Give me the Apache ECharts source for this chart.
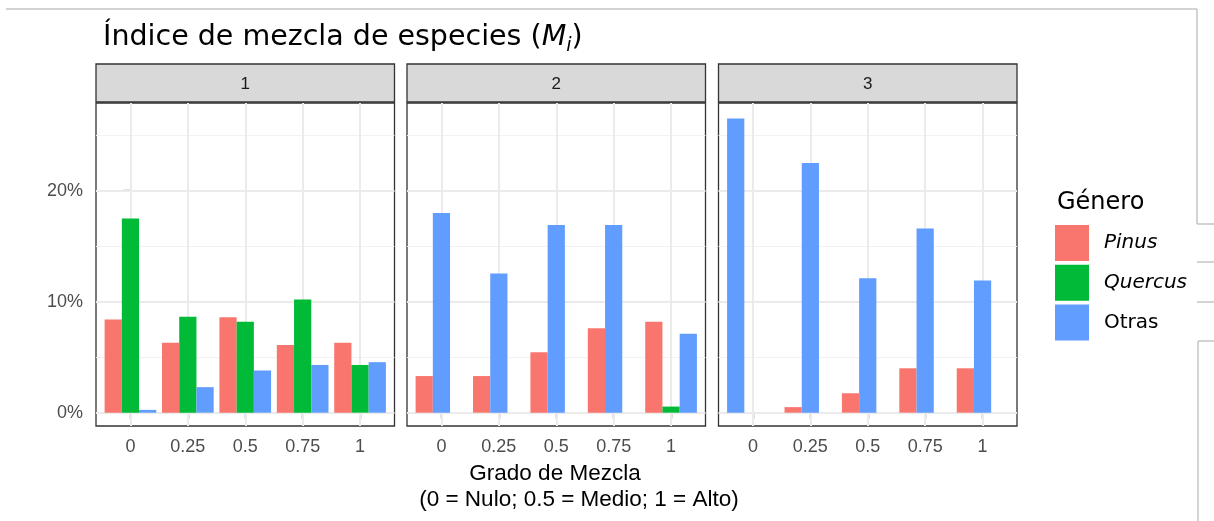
<!DOCTYPE html>
<html><head><meta charset="utf-8">
<script src="https://cdn.jsdelivr.net/npm/echarts@6/dist/echarts.min.js"></script>
<style>html,body{margin:0;padding:0;background:#fff}#c{width:1214px;height:521px}</style>
</head><body><div id="c"></div>
<script>
// ---- data ----
const categories = ['0', '0.25', '0.5', '0.75', '1'];
const panelLabels = ['1', '2', '3'];
const genusNames = ['Pinus', 'Quercus', 'Otras'];
const genusColors = ['#F8766D', '#00BA38', '#619CFF'];
const pinus   = [[8.4, 6.3, 8.6, 6.1, 6.3], [3.3, 3.3, 5.45, 7.6, 8.2], [null, 0.5, 1.75, 4.0, 4.0]];
const quercus = [[17.5, 8.65, 8.2, 10.2, 4.3], [null, null, null, null, 0.55], [null, null, null, null, null]];
const otras   = [[0.25, 2.3, 3.8, 4.3, 4.55], [18.0, 12.55, 16.9, 16.9, 7.1], [26.5, 22.5, 12.1, 16.6, 11.9]];
const yMajor = [0, 10, 20];
const yMinor = [5, 15, 25];
const titleText = 'Índice de mezcla de especies';
const xTitle1 = 'Grado de Mezcla';
const xTitle2 = '(0 = Nulo; 0.5 = Medio; 1 = Alto)';
const legendTitle = 'Género';

// ---- layout ----
const panelLeft = [96, 407, 718.5];
const panelW = 298.5, panelTop = 103, panelH = 323, stripTop = 64, stripH = 38;
const unit = panelW / 5.2;
const barW = unit * 0.9 / 3;
const AX = 'Liberation Sans, Arial, sans-serif';
const DV = 'DejaVu Sans, Verdana, sans-serif';

const byGenus = [pinus, quercus, otras];
const grid = [], xAxis = [], yAxis = [], series = [];

panelLabels.forEach((pl, p) => {
  grid.push({left: panelLeft[p], top: panelTop, width: panelW, height: panelH, show: true,
    borderColor: '#333333', borderWidth: 1.3, backgroundColor: '#fff', containLabel: false, outerBoundsMode: 'none'});
  xAxis.push({gridIndex: p, type: 'value', min: -0.6, max: 4.6,
    axisLine: {show: false}, splitLine: {show: false},
    axisTick: {show: true, customValues: categories.map((c, i) => i), length: 6, lineStyle: {color: '#333333', width: 1.3}},
    axisLabel: {show: true, customValues: categories.map((c, i) => i), formatter: v => categories[Math.round(v)],
      fontFamily: AX, fontSize: 18, color: '#4D4D4D', margin: 12}});
  yAxis.push({gridIndex: p, type: 'value', min: -1.2, max: 27.9,
    axisLine: {show: false}, splitLine: {show: false},
    axisTick: {show: p === 0, customValues: yMajor, length: 7, lineStyle: {color: '#333333', width: 1.3}},
    axisLabel: {show: p === 0, customValues: yMajor, formatter: v => v + '%',
      fontFamily: AX, fontSize: 18, color: '#4D4D4D', margin: 13}});
  for (let s = 0; s < 3; s++) {
    const data = [];
    categories.forEach((c, i) => {
      const present = [];
      byGenus.forEach((arr, g) => { if (arr[p][i] !== null) present.push(g); });
      if (present[s] !== undefined) {
        const g = present[s];
        data.push({value: [i, byGenus[g][p][i]], itemStyle: {color: genusColors[g]}});
      }
    });
    const ser = {type: 'bar', name: 'slot' + p + '_' + s, xAxisIndex: p, yAxisIndex: p,
      barWidth: barW, barGap: '0%', data: data, silent: true, animation: false, z: 2};
    if (s === 1) {
      const ml = [];
      yMinor.forEach(v => ml.push({yAxis: v, lineStyle: {color: '#F2F2F2', width: 1, type: 'solid'}}));
      yMajor.forEach(v => ml.push({yAxis: v, lineStyle: {color: '#EBEBEB', width: 2, type: 'solid'}}));
      categories.forEach((c, i) => ml.push({xAxis: i, lineStyle: {color: '#EBEBEB', width: 2, type: 'solid'}}));
      ser.markLine = {silent: true, symbol: ['none', 'none'], label: {show: false}, animation: false, z: 1, data: ml};
    }
    series.push(ser);
  }
});

// hidden grid for legend entries
grid.push({left: 0, top: 0, width: 1, height: 1, show: false});
xAxis.push({gridIndex: 3, type: 'category', data: ['x'], show: false});
yAxis.push({gridIndex: 3, type: 'value', show: false});
genusNames.forEach((n, g) => series.push({type: 'bar', name: n, xAxisIndex: 3, yAxisIndex: 3, data: [], itemStyle: {color: genusColors[g]}}));

const graphic = [];
panelLabels.forEach((pl, p) => {
  graphic.push({type: 'rect', shape: {x: panelLeft[p], y: stripTop, width: panelW, height: stripH},
    style: {fill: '#D9D9D9', stroke: '#333333', lineWidth: 1.3}, z: 10});
  graphic.push({type: 'text', x: panelLeft[p] + panelW / 2, y: stripTop + stripH / 2 + 1,
    style: {text: pl, fontFamily: AX, fontSize: 17, fill: '#1A1A1A', align: 'center', verticalAlign: 'middle'}, z: 11});
});
graphic.push({type: 'text', x: 555, y: 474, style: {text: xTitle1, fontFamily: AX, fontSize: 22.5, fill: '#000', align: 'center', verticalAlign: 'middle'}});
graphic.push({type: 'text', x: 579, y: 500, style: {text: xTitle2, fontFamily: AX, fontSize: 22.5, fill: '#000', align: 'center', verticalAlign: 'middle'}});
graphic.push({type: 'text', x: 1057, y: 203, style: {text: legendTitle, fontFamily: DV, fontSize: 24, fill: '#000', align: 'left', verticalAlign: 'middle'}});
// light frame lines at the right edge of the picture
const frame = [[6, 9, 1197, 9], [1197, 9, 1197, 224], [1197, 224, 1214, 224], [1197, 262, 1214, 262],
  [1197, 302, 1214, 302], [1198, 341, 1214, 341], [1198, 341, 1198, 521]];
frame.forEach(f => graphic.push({type: 'line', shape: {x1: f[0], y1: f[1], x2: f[2], y2: f[3]},
  style: {stroke: '#C4C4C4', lineWidth: 1.5}}));

const option = {
  animation: false,
  backgroundColor: '#fff',
  title: {text: titleText + ' ({m|M}{s|i})', left: 103, top: 20, padding: 0,
    textStyle: {fontFamily: DV, fontSize: 28.5, fontWeight: 'normal', color: '#000', lineHeight: 36,
      rich: {m: {fontFamily: DV, fontSize: 28.5, fontStyle: 'italic', color: '#000', lineHeight: 36},
             s: {fontFamily: DV, fontSize: 19, fontStyle: 'italic', color: '#000', lineHeight: 19, verticalAlign: 'bottom'}}}},
  legend: {orient: 'vertical', left: 1055, top: 225, padding: 0, itemWidth: 34, itemHeight: 36, itemGap: 3.7, icon: 'rect',
    selectedMode: false, data: genusNames,
    formatter: n => n === 'Otras' ? '{n|' + n + '}' : '{i|' + n + '}',
    textStyle: {fontFamily: DV, fontSize: 20, color: '#000',
      rich: {i: {fontFamily: DV, fontSize: 20, fontStyle: 'italic', color: '#000', padding: [0, 0, 0, 10]},
             n: {fontFamily: DV, fontSize: 20, color: '#000', padding: [0, 0, 0, 10]}}}},
  grid, xAxis, yAxis, series, graphic
};
const chart = echarts.init(document.getElementById('c'), null, {renderer: 'canvas'});
chart.setOption(option);
</script></body></html>
